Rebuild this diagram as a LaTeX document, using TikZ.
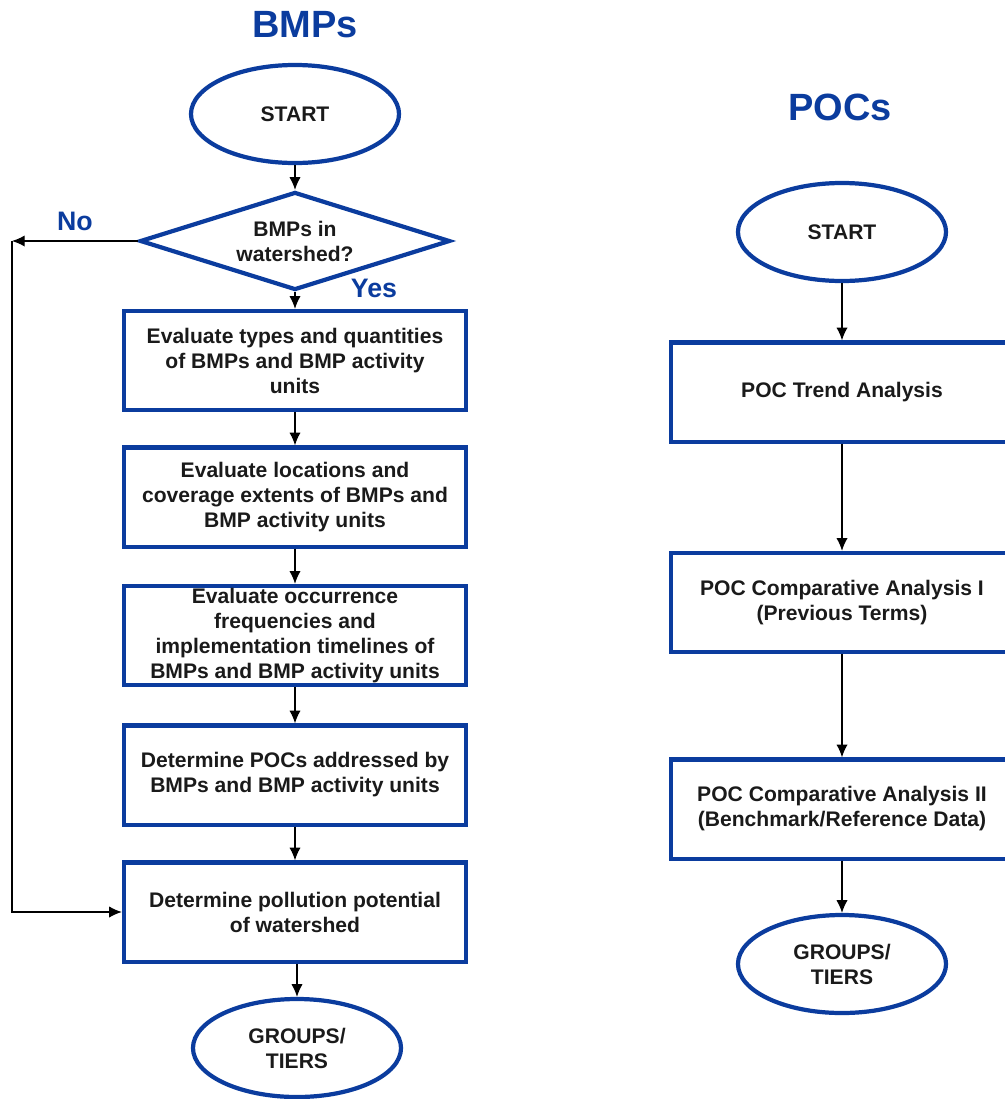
\documentclass[tikz,border=0pt]{standalone}
\usepackage{fontspec}
\setmainfont{Liberation Sans}
\usetikzlibrary{shapes.geometric,arrows.meta}
\definecolor{flowblue}{HTML}{0B3C9E}
\definecolor{flowtext}{HTML}{1A1A1A}
\tikzset{
  title/.style = {font=\fontsize{27}{30}\selectfont\bfseries, text=flowblue},
  answer/.style = {font=\fontsize{19}{22}\selectfont\bfseries, text=flowblue},
  terminal/.style = {ellipse, draw=flowblue, line width=3pt, minimum width=5.2cm, minimum height=2.45cm,
    inner sep=0pt, align=center, text=flowtext, font=\fontsize{15}{17.8}\selectfont\bfseries},
  decision/.style = {diamond, draw=flowblue, line width=3pt, minimum width=7.75cm, minimum height=2.45cm,
    shape aspect=3.07, inner sep=0pt, align=center, text=flowtext, font=\fontsize{15}{17.8}\selectfont\bfseries},
  process/.style = {rectangle, draw=flowblue, line width=3pt, minimum width=8.55cm, minimum height=2.48cm,
    inner sep=0pt, align=center, text=flowtext, font=\fontsize{15}{17.8}\selectfont\bfseries},
  flow/.style = {-{Latex[length=9pt,width=8pt]}, line width=0.9pt}
}
\begin{document}
\begin{tikzpicture}[x=0.025cm, y=-0.025cm]
\useasboundingbox (0,0) rectangle (1005,1099);
\clip (0,0) rectangle (1005,1099);

% BMPs column
\node [title] (bmptitle) at (305,25) {BMPs};
\node [terminal] (lstart) at (295,114) {START};
\node [decision] (ldec) at (295,241) {BMPs in\\watershed?};
\node [process] (lb1) at (295,360.5) {Evaluate types and quantities\\of BMPs and BMP activity\\units};
\node [process] (lb2) at (295,497) {Evaluate locations and\\coverage extents of BMPs and\\BMP activity units};
\node [process] (lb3) at (295,635.5) {Evaluate occurrence\\frequencies and\\implementation timelines of\\BMPs and BMP activity units};
\node [process] (lb4) at (295,775) {Determine POCs addressed by\\BMPs and BMP activity units};
\node [process] (lb5) at (295,912) {Determine pollution potential\\of watershed};
\node [terminal] (lend) at (297,1048) {GROUPS/\\TIERS};
\node [answer] (no) at (75,221) {No};
\node [answer] (yes) at (374,288) {Yes};
\coordinate (nocorner) at (12,241);

\draw [flow] (lstart) -- (ldec);
\draw [flow] (ldec) -- (lb1);
\draw [flow] (lb1) -- (lb2);
\draw [flow] (lb2) -- (lb3);
\draw [flow] (lb3) -- (lb4);
\draw [flow] (lb4) -- (lb5);
\draw [flow] (lb5.south -| lend) -- (lend);
\draw [flow] (ldec.west) -- (nocorner);
\draw [flow] (nocorner) |- (lb5.west);

% POCs column
\node [title] (poctitle) at (840,107) {POCs};
\node [terminal] (rstart) at (842,232) {START};
\node [process] (rb1) at (842,392) {POC Trend Analysis};
\node [process] (rb2) at (842,602.5) {POC Comparative Analysis I\\(Previous Terms)};
\node [process] (rb3) at (842,809) {POC Comparative Analysis II\\(Benchmark/Reference Data)};
\node [terminal] (rend) at (842,964) {GROUPS/\\TIERS};

\draw [flow] (rstart) -- (rb1);
\draw [flow] (rb1) -- (rb2);
\draw [flow] (rb2) -- (rb3);
\draw [flow] (rb3) -- (rend);
\end{tikzpicture}
\end{document}
